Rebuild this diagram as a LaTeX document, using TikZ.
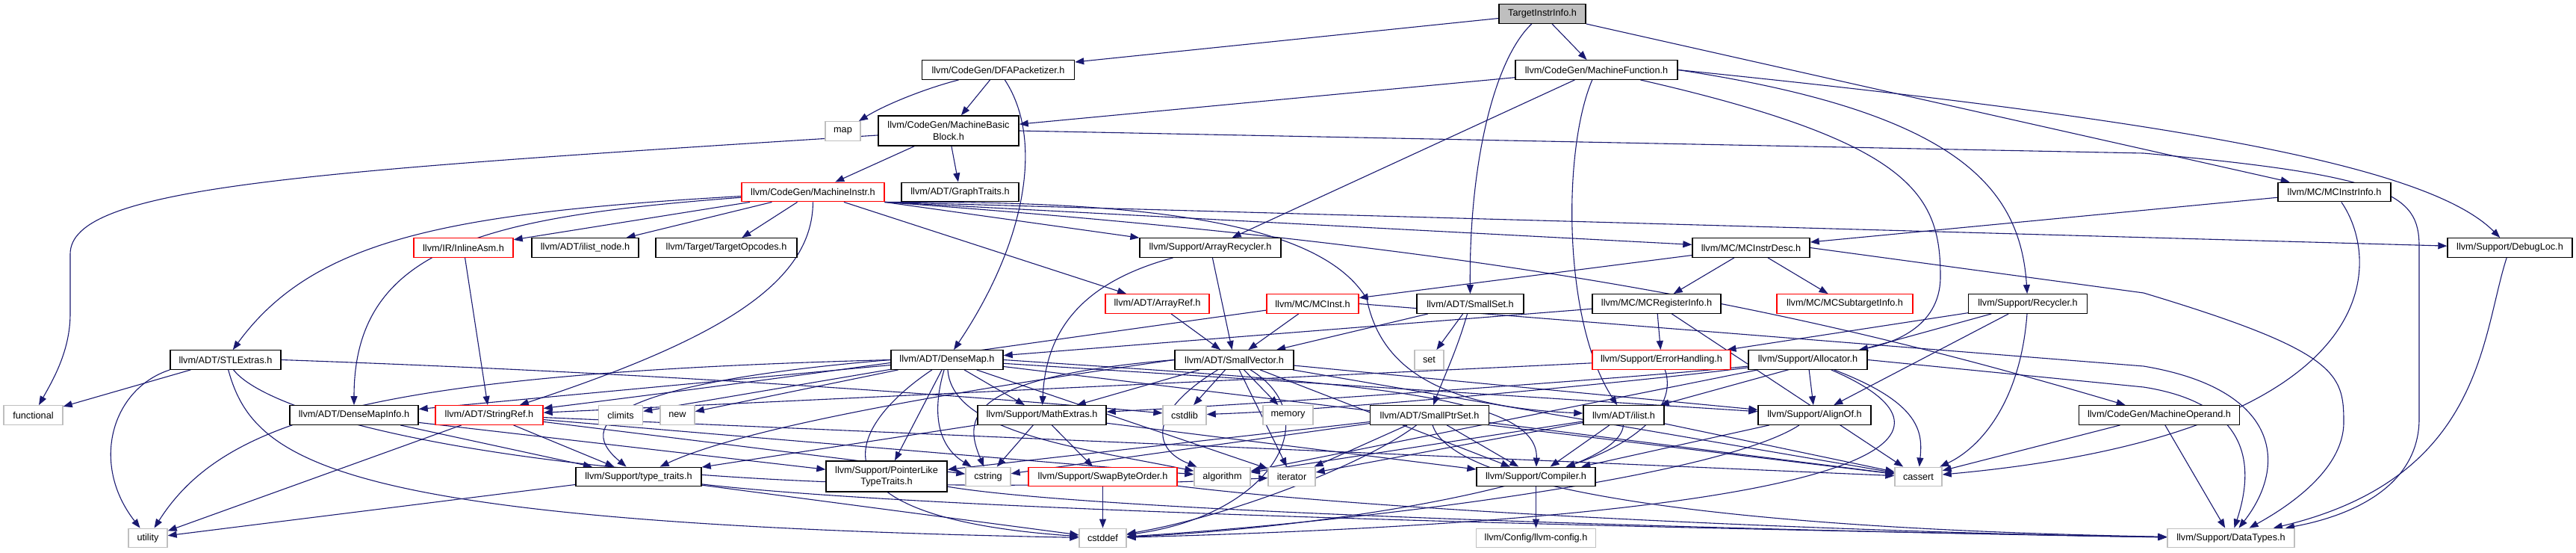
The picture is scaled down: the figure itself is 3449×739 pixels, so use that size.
\documentclass[tikz,border=0pt]{standalone}
\usepackage{fontspec}
\setmainfont{Liberation Sans}
\usetikzlibrary{arrows.meta}
\definecolor{edgec}{HTML}{191970}
\definecolor{grayb}{HTML}{BFBFBF}
\pgfdeclarelayer{bg}
\pgfsetlayers{bg,main}
\begin{document}
\begin{tikzpicture}[x=1pt,y=-1pt,
  nb/.style={draw=black, line width=1.4pt, fill=white, inner sep=0pt, minimum height=25.5pt, font=\fontsize{12.7}{15.5}\selectfont, align=center},
  nr/.style={nb, draw=red},
  ng/.style={nb, draw=grayb},
  e/.style={draw=edgec, line width=1.1pt, -{Triangle[length=12pt,width=9pt]}},
]
\useasboundingbox (0,0) rectangle (3449,739);
% row 0-2
\node[nb,fill=grayb,minimum width=116pt] (tii) at (2065,18.5) {TargetInstrInfo.h};
\node[nb,minimum width=204pt] (dfa) at (1336.5,93.5) {llvm/CodeGen/DFAPacketizer.h};
\node[nb,minimum width=217pt] (mf) at (2137.5,93.5) {llvm/CodeGen/MachineFunction.h};
\node[ng,minimum width=47pt] (map) at (1128.5,175.5) {map};
\node[nb,minimum width=188pt,minimum height=40pt] (mbb) at (1270,175) {llvm/CodeGen/MachineBasic\\Block.h};
% row 3
\node[nr,minimum width=191pt] (mi) at (1088.5,257) {llvm/CodeGen/MachineInstr.h};
\node[nb,minimum width=157pt] (gt) at (1285.5,257) {llvm/ADT/GraphTraits.h};
\node[nb,minimum width=151pt] (mcii) at (3125.5,257) {llvm/MC/MCInstrInfo.h};
% row 4
\node[nb,minimum width=167pt] (dl) at (3360.5,331.5) {llvm/Support/DebugLoc.h};
\node[nr,minimum width=133pt] (ia) at (620.5,331.5) {llvm/IR/InlineAsm.h};
\node[nb,minimum width=143pt] (iln) at (783.5,331.5) {llvm/ADT/ilist\_node.h};
\node[nb,minimum width=189pt] (to) at (972.5,331.5) {llvm/Target/TargetOpcodes.h};
\node[nb,minimum width=189pt] (ar) at (1620.5,331.5) {llvm/Support/ArrayRecycler.h};
\node[nb,minimum width=157pt] (mcid) at (2344.5,331.5) {llvm/MC/MCInstrDesc.h};
% row 5
\node[nr,minimum width=123pt] (mcinst) at (1757.5,406.5) {llvm/MC/MCInst.h};
\node[nb,minimum width=143pt] (sset) at (1968.5,406.5) {llvm/ADT/SmallSet.h};
\node[nb,minimum width=172pt] (mcreg) at (2218,406.5) {llvm/MC/MCRegisterInfo.h};
\node[nr,minimum width=182pt] (mcsub) at (2470,406.5) {llvm/MC/MCSubtargetInfo.h};
\node[nb,minimum width=159pt] (rec) at (2715,406.5) {llvm/Support/Recycler.h};
\node[nr,minimum width=139pt] (aref) at (1549.5,406.5) {llvm/ADT/ArrayRef.h};
% row 6
\node[nb,minimum width=148pt] (stl) at (302,481.5) {llvm/ADT/STLExtras.h};
\node[nb,minimum width=150pt] (dmap) at (1268,481.5) {llvm/ADT/DenseMap.h};
\node[nb,minimum width=159pt] (svec) at (1652.5,481.5) {llvm/ADT/SmallVector.h};
\node[ng,minimum width=39pt] (set) at (1913.5,481.5) {set};
\node[nr,minimum width=185pt] (eh) at (2224.5,481.5) {llvm/Support/ErrorHandling.h};
\node[nb,minimum width=159pt] (alloc) at (2420.5,481.5) {llvm/Support/Allocator.h};
% row 7
\node[nb,minimum width=172pt] (dmi) at (474,555.5) {llvm/ADT/DenseMapInfo.h};
\node[ng,minimum width=79pt] (func) at (44.5,555.5) {functional};
\node[nr,minimum width=144pt] (sref) at (655,555.5) {llvm/ADT/StringRef.h};
\node[ng,minimum width=59pt] (climits) at (831,555.5) {climits};
\node[ng,minimum width=46pt] (new) at (907,555.5) {new};
\node[nb,minimum width=172pt] (mathx) at (1395,555.5) {llvm/Support/MathExtras.h};
\node[ng,minimum width=58pt] (cstdlib) at (1586,555.5) {cstdlib};
\node[ng,minimum width=67pt] (memory) at (1724.5,555.5) {memory};
\node[nb,minimum width=159pt] (sptr) at (1914,555.5) {llvm/ADT/SmallPtrSet.h};
\node[nb,minimum width=108pt] (ilist) at (2174,555.5) {llvm/ADT/ilist.h};
\node[nb,minimum width=151pt] (alignof) at (2429.5,555.5) {llvm/Support/AlignOf.h};
\node[nb,minimum width=215pt] (mop) at (2891,555.5) {llvm/CodeGen/MachineOperand.h};
% row 8
\node[nb,minimum width=168pt] (tt) at (855,638) {llvm/Support/type\_traits.h};
\node[nb,minimum width=162pt,minimum height=41pt] (pltt) at (1187,637.5) {llvm/Support/PointerLike\\TypeTraits.h};
\node[ng,minimum width=60pt] (cstring) at (1323,638) {cstring};
\node[nr,minimum width=199pt] (sbo) at (1476.5,638) {llvm/Support/SwapByteOrder.h};
\node[ng,minimum width=75pt] (algo) at (1636.5,638) {algorithm};
\node[ng,minimum width=63pt] (iter) at (1729.5,638) {iterator};
\node[nb,minimum width=159pt] (comp) at (2056.5,638) {llvm/Support/Compiler.h};
\node[ng,minimum width=63pt] (cassert) at (2568.5,638) {cassert};
% row 9
\node[ng,minimum width=52pt] (util) at (198,720) {utility};
\node[ng,minimum width=63pt] (cstddef) at (1476.5,720) {cstddef};
\node[ng,minimum width=160pt] (cfg) at (2056.5,720) {llvm/Config/llvm-config.h};
\node[ng,minimum width=170pt] (dt) at (2987,720) {llvm/Support/DataTypes.h};

\begin{pgfonlayer}{bg}
% top
\draw[e] (tii) -- (dfa);
\draw[e] (tii) -- (mf);
\draw[e] (tii.south east) -- (mcii);
\draw[e] (tii) .. controls (2000,80) and (1967,220) .. (sset);
\draw[e] (dfa) .. controls (1240,118) and (1185,140) .. (map);
\draw[e] (dfa) -- (mbb);
\draw[e] (dfa) .. controls (1400,190) and (1370,330) .. (dmap);
\draw[e] (mf) -- (mbb);
\draw[e] (mf) -- (ar);
\draw[e] (mf) .. controls (2092,200) and (2092,430) .. (ilist);
\draw[e] (mf.east) .. controls (2620,150) and (2705,250) .. (rec);
\draw[e] (mf) .. controls (2560,190) and (2598,260) .. (2598,370) .. controls (2598,440) and (2530,460) .. (alloc);
\draw[e] (mf.east) .. controls (2900,160) and (3250,220) .. (dl);
\draw[e] (mbb) .. controls (400,230) and (94,250) .. (94,340) -- (94,420) .. controls (94,470) and (70,510) .. (func);
\draw[e] (mbb) -- (mi);
\draw[e] (mbb) -- (gt);
\draw[e] (mbb.east) -- (2870,205) .. controls (3200,235) and (3239,260) .. (3239,330) -- (3239,560) .. controls (3239,650) and (3150,690) .. (dt);
% MI
\draw[e] (mi) .. controls (600,285) and (420,320) .. (stl);
\draw[e] (mi) .. controls (650,290) and (474,330) .. (dmi);
\draw[e] (mi) -- (ia);
\draw[e] (mi) -- (iln);
\draw[e] (mi) -- (to);
\draw[e] (mi) .. controls (1088,380) and (960,455) .. (sref);
\draw[e] (mi) -- (aref);
\draw[e] (mi.south east) -- (ar);
\draw[e] (mi.south east) -- (mcid);
\draw[e] (mi.south east) -- (dl);
\draw[e] (mi.south east) .. controls (1550,268) and (1770,300) .. (1830,400) .. controls (1850,500) and (1940,545) .. (ilist);
\draw[e] (mi.south east) .. controls (2000,330) and (2400,410) .. (mop);
% AR
\draw[e] (ar) -- (svec);
\draw[e] (ar) .. controls (1440,380) and (1400,450) .. (mathx);
% MCII
\draw[e] (mcii) -- (mcid);
\draw[e] (mcii) .. controls (3190,350) and (3200,580) .. (cassert);
% DL
\draw[e] (dl) .. controls (3322,450) and (3325,640) .. (dt);
% MCID
\draw[e] (mcid) -- (mcinst);
\draw[e] (mcid) -- (mcreg);
\draw[e] (mcid) -- (mcsub);
\draw[e] (mcid.east) -- (2870,392) .. controls (3130,470) and (3138,500) .. (3138,565) .. controls (3138,630) and (3060,680) .. (dt);
% MCInst
\draw[e] (mcinst) -- (svec);
\draw[e] (mcinst) .. controls (1300,470) and (1100,500) .. (sref);
\draw[e] (mcinst.east) -- (2870,490) .. controls (3050,520) and (3065,620) .. (dt);
% MCReg
\draw[e] (mcreg) -- (dmap);
\draw[e] (mcreg) -- (eh);
\draw[e] (mcreg) -- (cassert);
% ilist
\draw[e] (ilist) -- (comp);
\draw[e] (ilist) -- (algo);
\draw[e] (ilist) -- (cassert);
\draw[e] (ilist) .. controls (2170,640) and (1800,705) .. (cstddef);
\draw[e] (ilist) -- (iter);
% SmallSet
\draw[e] (sset) .. controls (1950,470) and (1935,500) .. (sptr);
\draw[e] (sset) -- (svec);
\draw[e] (sset) -- (set);
% SmallPtrSet
\draw[e] (sptr) -- (comp);
\draw[e] (sptr) .. controls (1940,640) and (2200,705) .. (dt);
\draw[e] (sptr) -- (pltt);
\draw[e] (sptr) -- (cassert);
\draw[e] (sptr) .. controls (1830,620) and (1650,690) .. (cstddef);
\draw[e] (sptr) -- (cstring);
\draw[e] (sptr) -- (iter);
% SmallVector
\draw[e] (svec) -- (alignof);
\draw[e] (svec) -- (comp);
\draw[e] (svec) -- (mathx);
\draw[e] (svec.west) .. controls (1300,520) and (1000,570) .. (tt);
\draw[e] (svec) .. controls (1540,550) and (1540,600) .. (algo);
\draw[e] (svec) -- (cassert);
\draw[e] (svec) .. controls (1780,560) and (1700,690) .. (cstddef);
\draw[e] (svec) -- (cstdlib);
\draw[e] (svec.west) .. controls (1290,505) and (1290,560) .. (cstring);
\draw[e] (svec) -- (iter);
\draw[e] (svec) -- (memory);
% DenseMap
\draw[e] (dmap) -- (dmi);
\draw[e] (dmap) -- (alignof);
\draw[e] (dmap.east) .. controls (1800,512) and (2060,525) .. (comp);
\draw[e] (dmap) -- (mathx);
\draw[e] (dmap) -- (pltt);
\draw[e] (dmap.west) .. controls (850,510) and (760,560) .. (tt);
\draw[e] (dmap) .. controls (1275,580) and (1450,600) .. (algo);
\draw[e] (dmap) -- (cassert);
\draw[e] (dmap) -- (climits);
\draw[e] (dmap) .. controls (1150,560) and (1050,690) .. (cstddef);
\draw[e] (dmap) .. controls (1245,560) and (1260,600) .. (cstring);
\draw[e] (dmap) -- (iter);
\draw[e] (dmap) -- (new);
\draw[e] (dmap.west) .. controls (500,500) and (300,560) .. (util);
% DMI
\draw[e] (dmi) -- (pltt);
\draw[e] (dmi) -- (tt);
% STL
\draw[e] (stl) .. controls (340,620) and (450,700) .. (cstddef);
\draw[e] (stl.east) .. controls (900,500) and (1300,530) .. (cstdlib);
\draw[e] (stl) -- (func);
\draw[e] (stl) .. controls (380,580) and (900,680) .. (iter);
\draw[e] (stl.south west) .. controls (150,520) and (120,620) .. (util);
% StringRef
\draw[e] (sref) -- (tt);
\draw[e] (sref) -- (algo);
\draw[e] (sref) -- (cassert);
\draw[e] (sref) -- (cstring);
\draw[e] (sref) -- (util);
% type_traits
\draw[e] (tt) .. controls (1300,690) and (2500,712) .. (dt);
\draw[e] (tt) -- (cstddef);
\draw[e] (tt) -- (util);
% MathExtras
\draw[e] (mathx) -- (comp);
\draw[e] (mathx) -- (sbo);
\draw[e] (mathx) -- (tt);
\draw[e] (mathx) -- (cstring);
% SBO
\draw[e] (sbo) .. controls (1900,690) and (2600,715) .. (dt);
\draw[e] (sbo) -- (cstddef);
% PLTT
\draw[e] (pltt) .. controls (1500,690) and (2550,714) .. (dt);
% compiler
\draw[e] (comp) -- (cfg);
% alignof
\draw[e] (alignof) -- (comp);
\draw[e] (alignof) .. controls (2300,640) and (1800,700) .. (cstddef);
% allocator
\draw[e] (alloc) -- (alignof);
\draw[e] (alloc.east) -- (2870,518) .. controls (3010,540) and (3020,620) .. (dt);
\draw[e] (alloc) .. controls (2200,505) and (1700,540) .. (mathx);
\draw[e] (alloc) -- (algo);
\draw[e] (alloc) .. controls (2574,540) and (2574,580) .. (cassert);
\draw[e] (alloc) .. controls (2650,580) and (2560,690) .. (cstddef);
\draw[e] (alloc) .. controls (2200,510) and (1800,548) .. (cstdlib);
% recycler
\draw[e] (rec) -- (ilist);
\draw[e] (rec) -- (alignof);
\draw[e] (rec) -- (eh);
\draw[e] (rec) .. controls (2705,540) and (2650,600) .. (cassert);
% eh
\draw[e] (eh) -- (sref);
\draw[e] (eh) .. controls (2245,540) and (2200,590) .. (comp);
% mop
\draw[e] (mop) -- (dt);
\draw[e] (mop) -- (cassert);
% misc
\draw[e] (aref) -- (svec);
\draw[e] (ia) -- (sref);
\end{pgfonlayer}
\end{tikzpicture}
\end{document}
